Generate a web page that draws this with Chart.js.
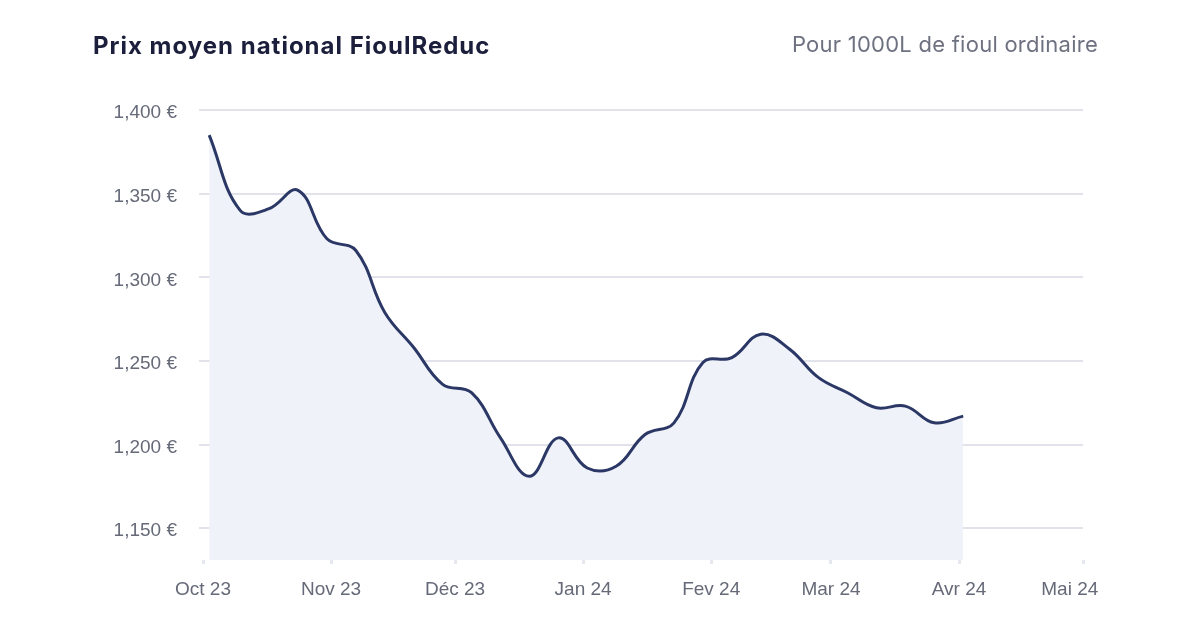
<!DOCTYPE html>
<html><head><meta charset="utf-8">
<script src="https://cdn.jsdelivr.net/npm/chart.js@4.4.1/dist/chart.umd.min.js"></script>
<style>
html,body{margin:0;padding:0;background:#fff;width:1200px;height:627px;overflow:hidden}
#wrap{position:absolute;left:0;top:0;width:1200px;height:627px}
#title{position:absolute;left:93px;top:31px;font-family:Inter,"Noto Sans",sans-serif;font-weight:700;font-size:24px;letter-spacing:1px;color:#1b1f3b;white-space:nowrap}
#sub{position:absolute;right:102px;top:31px;font-family:Inter,"Noto Sans",sans-serif;font-weight:400;font-size:22px;letter-spacing:0.25px;color:#6e7180;white-space:nowrap}
</style></head><body>
<div id="wrap"><canvas id="c" width="1200" height="627"></canvas></div>
<div id="title">Prix moyen national FioulReduc</div>
<div id="sub">Pour 1000L de fioul ordinaire</div>
<script>
// Days since 1 Oct 2023
const days   = [1.5, 9, 16, 23, 30, 37, 44, 51, 58, 65, 72, 79, 86, 93, 100, 107, 114, 121, 128, 135, 142, 149, 156, 163, 170, 177, 184];
const prices = [1385, 1340, 1341, 1352, 1323, 1316, 1279, 1258, 1236, 1231, 1204, 1181, 1204, 1186, 1187, 1206, 1213, 1249, 1252, 1266, 1257, 1240, 1231, 1222, 1223, 1213, 1217];
const monthStarts = [0, 31, 61, 92, 123, 152, 183, 213];
const monthLabels = ["Oct 23", "Nov 23", "Déc 23", "Jan 24", "Fev 24", "Mar 24", "Avr 24", "Mai 24     "];
const yTicks = [1150, 1200, 1250, 1300, 1350, 1400];

const tickFont = {family: "'Liberation Sans', Arial, sans-serif", size: 19};
new Chart(document.getElementById('c'), {
  type: 'line',
  data: {
    datasets: [{
      data: days.map((d, i) => ({x: d, y: prices[i]})),
      borderColor: '#2b3866',
      borderWidth: 3,
      backgroundColor: '#eff2f9',
      fill: 'start',
      tension: 0.4,
      pointRadius: 0
    }]
  },
  options: {
    responsive: false,
    animation: false,
    layout: {padding: {left: 0, right: 117, top: 110, bottom: 0}},
    plugins: {legend: {display: false}, tooltip: {enabled: false}},
    scales: {
      x: {
        type: 'linear',
        min: 0, max: 213,
        afterBuildTicks: s => { s.ticks = monthStarts.map(v => ({value: v})); },
        afterFit: s => { s.height = 67; },
        ticks: {
          font: tickFont, color: '#666a78', padding: 14, maxRotation: 0, autoSkip: false,
          callback: v => monthLabels[monthStarts.indexOf(v)]
        },
        grid: {drawOnChartArea: false, drawTicks: true, tickLength: 4, color: '#e6e8ef', lineWidth: 3},
        border: {display: false}
      },
      y: {
        min: 1131, max: 1400,
        afterBuildTicks: s => { s.ticks = yTicks.map(v => ({value: v})); },
        afterFit: s => { s.width = 203; },
        ticks: {
          font: tickFont, color: '#666a78', padding: 22, labelOffset: 3,
          callback: v => v.toLocaleString('en-US') + ' €'
        },
        grid: {color: '#e2e3ea', lineWidth: 2, tickLength: 4},
        border: {display: false}
      }
    }
  }
});
</script>
</body></html>
